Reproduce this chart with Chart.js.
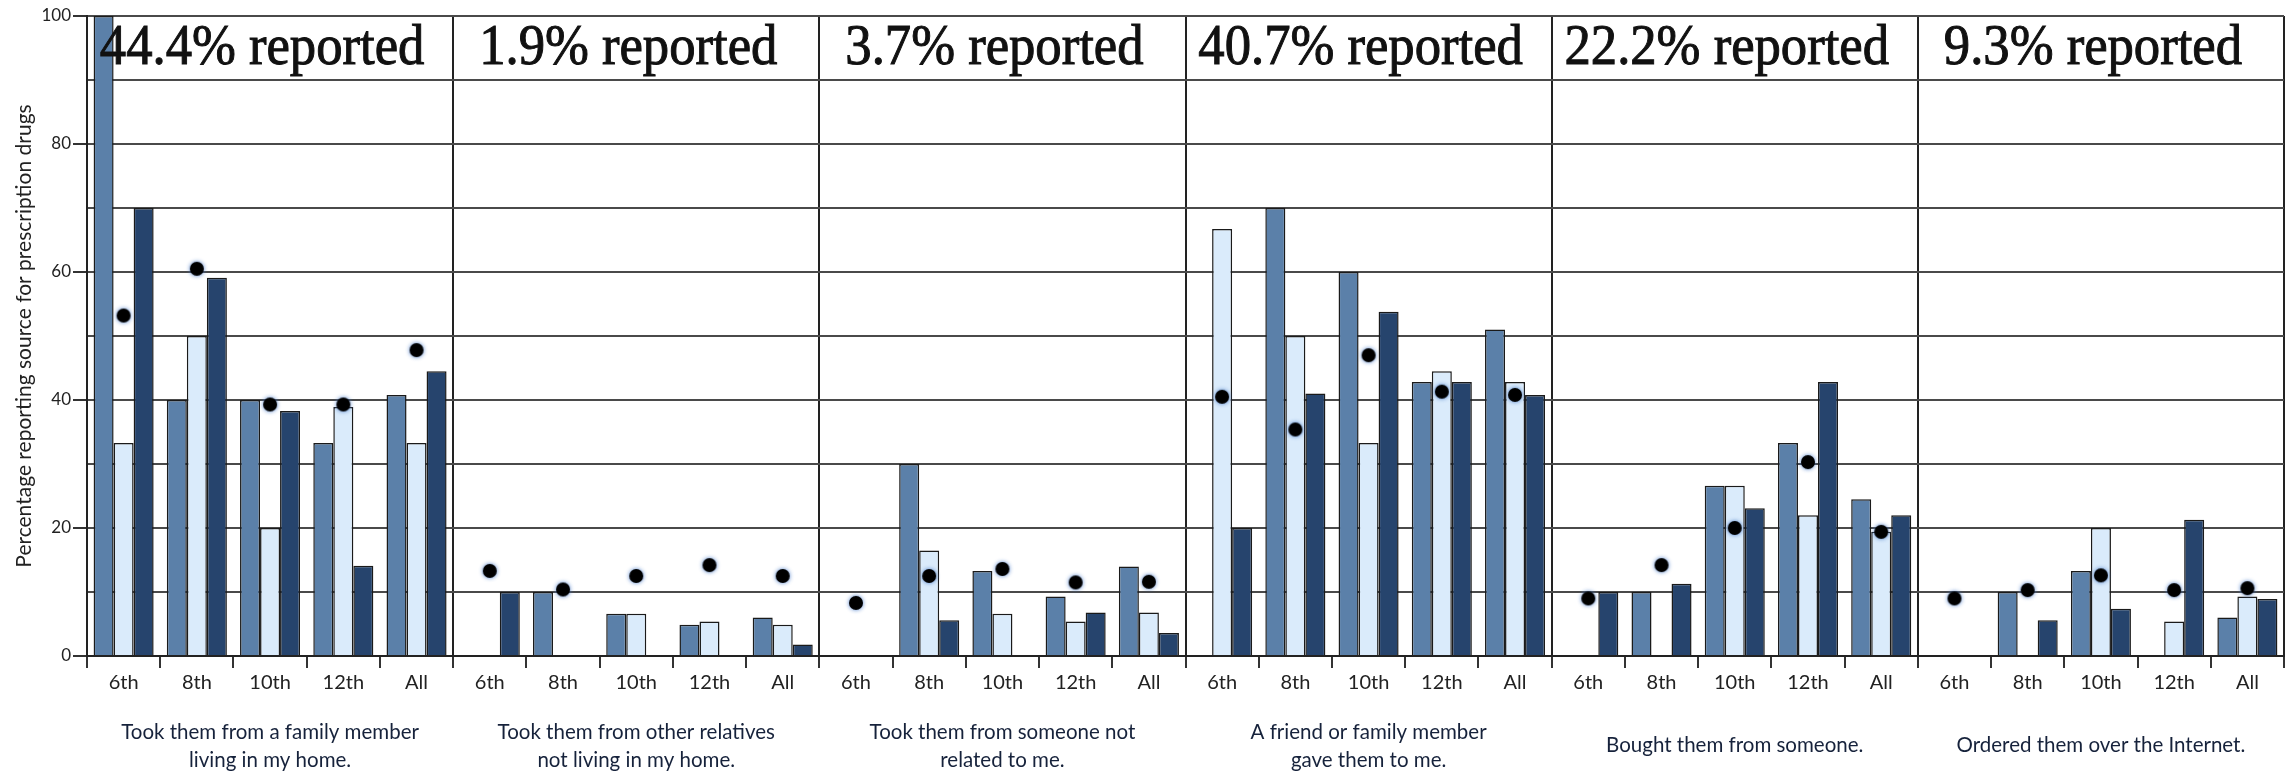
<!DOCTYPE html>
<html>
<head>
<meta charset="utf-8">
<script src="https://cdn.jsdelivr.net/npm/chart.js@4.4.1/dist/chart.umd.min.js"></script>
<style>
  html, body { margin: 0; padding: 0; background: #ffffff; }
  #wrap { width: 2292px; height: 772px; position: relative; }
</style>
</head>
<body>
<div id="wrap"><canvas id="chart" width="2292" height="772"></canvas></div>
<script>
// Grade groups repeated inside every source panel
const grades = ['6th', '8th', '10th', '12th', 'All'];

// Source panels: caption lines under each panel
const sourceCaptions = [
  ['Took them from a family member', 'living in my home.'],
  ['Took them from other relatives', 'not living in my home.'],
  ['Took them from someone not', 'related to me.'],
  ['A friend or family member', 'gave them to me.'],
  ['Bought them from someone.'],
  ['Ordered them over the Internet.']
];

// Overall share reporting each source (panel headline)
const reportedShare = [44.4, 1.9, 3.7, 40.7, 22.2, 9.3];

// Y axis values (percent)
const yTicksMajor = [0, 20, 40, 60, 80, 100];

// Bar series, one row per panel, one value per grade (null = no bar)
const barsMid = [
  [100, 40, 40, 33.3, 40.8],
  [null, 10, 6.6, 4.9, 6.0],
  [null, 30, 13.3, 9.3, 14.0],
  [null, 70, 60, 42.8, 51.0],
  [null, 10, 26.6, 33.3, 24.5],
  [null, 10, 13.3, null, 6.0]
];
const barsLight = [
  [33.3, 50, 20, 38.9, 33.3],
  [null, null, 6.6, 5.4, 4.9],
  [null, 16.5, 6.6, 5.4, 6.8],
  [66.7, 50, 33.3, 44.5, 42.8],
  [null, null, 26.6, 22.0, 19.4],
  [null, null, 20, 5.4, 9.3]
];
const barsDark = [
  [70, 59.1, 38.3, 14.1, 44.5],
  [10, null, null, null, 1.8],
  [null, 5.6, null, 6.8, 3.6],
  [20, 41.0, 53.8, 42.8, 40.8],
  [10, 11.3, 23.1, 42.8, 22.0],
  [null, 5.6, 7.4, 21.3, 8.9]
];
// Dot markers, one per grade group
const dotValues = [
  [53.2, 60.5, 39.3, 39.3, 47.8],
  [13.3, 10.4, 12.5, 14.2, 12.5],
  [8.3, 12.5, 13.6, 11.5, 11.6],
  [40.5, 35.4, 47.0, 41.3, 40.8],
  [9.0, 14.2, 20.0, 30.3, 19.4],
  [9.0, 10.3, 12.6, 10.3, 10.6]
];

const panelCount = sourceCaptions.length;
const labels = sourceCaptions.flatMap(() => grades);
const flat = rows => rows.flat();

const SANS = "Lato, 'Liberation Sans', sans-serif";
const SERIF = "'Liberation Serif', 'DejaVu Serif', serif";

// Black dot with a soft blue halo, used as the point style
function makeDot() {
  const c = document.createElement('canvas');
  c.width = 26; c.height = 26;
  const g = c.getContext('2d');
  g.shadowColor = 'rgba(70,120,200,0.95)';
  g.shadowBlur = 4;
  g.fillStyle = '#000000';
  g.beginPath();
  g.arc(13, 13, 7, 0, Math.PI * 2);
  g.fill();
  return c;
}
const dotImage = makeDot();

// Headlines above each panel and captions under it
const panelText = {
  id: 'panelText',
  afterDraw(chart) {
    const { ctx, chartArea } = chart;
    const w = (chartArea.right - chartArea.left) / panelCount;
    ctx.save();
    for (let p = 0; p < panelCount; p++) {
      const cx = chartArea.left + w * (p + 0.5);

      ctx.save();
      ctx.translate(cx - 8, 64);
      ctx.scale(0.94, 1);
      ctx.font = '56px ' + SERIF;
      ctx.fillStyle = '#111111';
      ctx.strokeStyle = '#111111';
      ctx.lineWidth = 1;
      ctx.textAlign = 'center';
      ctx.textBaseline = 'alphabetic';
      const headline = reportedShare[p].toFixed(1) + '% reported';
      ctx.fillText(headline, 0, 0);
      ctx.strokeText(headline, 0, 0);
      ctx.restore();

      const lines = sourceCaptions[p];
      ctx.font = '20.5px ' + SANS;
      ctx.fillStyle = '#16223b';
      ctx.textAlign = 'center';
      ctx.textBaseline = 'middle';
      if (lines.length === 1) {
        ctx.fillText(lines[0], cx, 745);
      } else {
        ctx.fillText(lines[0], cx, 732);
        ctx.fillText(lines[1], cx, 760);
      }
    }
    ctx.restore();
  }
};

const barStyle = {
  borderColor: '#1a1a1a',
  borderWidth: 1.5,
  categoryPercentage: 0.82,
  barPercentage: 1.0,
  order: 1
};

new Chart(document.getElementById('chart'), {
  type: 'bar',
  data: {
    labels: labels,
    datasets: [
      Object.assign({ label: 'barsMid', data: flat(barsMid), backgroundColor: '#5b80a9' }, barStyle),
      Object.assign({ label: 'barsLight', data: flat(barsLight), backgroundColor: '#daebfb' }, barStyle),
      Object.assign({ label: 'barsDark', data: flat(barsDark), backgroundColor: '#26446d' }, barStyle),
      {
        type: 'line',
        label: 'dotValues',
        data: flat(dotValues),
        showLine: false,
        pointStyle: dotImage,
        pointRadius: 7,
        order: 0
      }
    ]
  },
  options: {
    responsive: false,
    animation: false,
    layout: { padding: { top: 16, right: 7, left: 0, bottom: 0 } },
    plugins: { legend: { display: false }, tooltip: { enabled: false } },
    scales: {
      x: {
        type: 'category',
        offset: true,
        afterFit(scale) { scale.height = 116; },
        grid: {
          offset: true,
          drawOnChartArea: true,
          color: ctx => (ctx.index === undefined || ctx.index % grades.length === 0) ? '#222222' : 'rgba(0,0,0,0)',
          lineWidth: 2,
          tickColor: '#333333',
          tickWidth: 2,
          tickLength: 12
        },
        border: { display: true, color: '#222222', width: 2 },
        ticks: {
          autoSkip: false,
          maxRotation: 0,
          minRotation: 0,
          padding: 3,
          color: '#222222',
          font: { family: SANS, size: 20 }
        }
      },
      y: {
        min: 0,
        max: 100,
        afterFit(scale) { scale.width = 87; },
        title: {
          display: true,
          text: 'Percentage reporting source for prescription drugs',
          color: '#222222',
          font: { family: SANS, size: 21 },
          padding: { top: 12, bottom: 0 }
        },
        grid: {
          color: '#4a4a4a',
          lineWidth: 2,
          tickLength: 14,
          tickWidth: 2,
          tickColor: ctx => (ctx.tick && yTicksMajor.includes(ctx.tick.value)) ? '#333333' : 'rgba(0,0,0,0)'
        },
        border: { display: true, color: '#222222', width: 2 },
        ticks: {
          stepSize: 10,
          padding: 2,
          color: '#222222',
          font: { family: SANS, size: 17 },
          callback: v => yTicksMajor.includes(v) ? String(v) : ''
        }
      }
    }
  },
  plugins: [panelText]
});
</script>
</body>
</html>
